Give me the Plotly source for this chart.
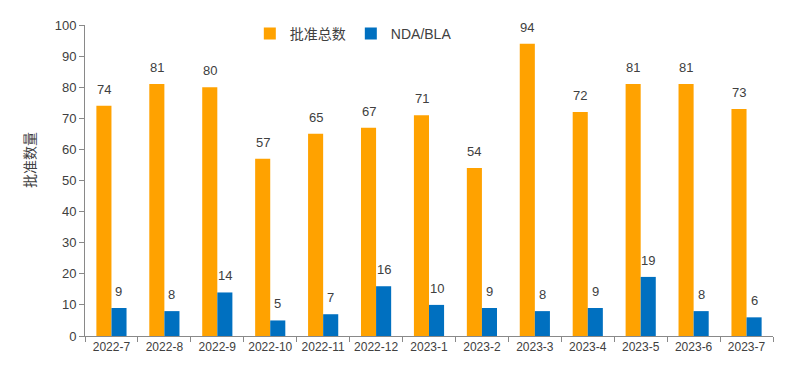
import plotly.graph_objects as go

categories = ["2022-7", "2022-8", "2022-9", "2022-10", "2022-11", "2022-12",
              "2023-1", "2023-2", "2023-3", "2023-4", "2023-5", "2023-6", "2023-7"]
total_approvals = [74, 81, 80, 57, 65, 67, 71, 54, 94, 72, 81, 81, 73]
nda_bla = [9, 8, 14, 5, 7, 16, 10, 9, 8, 9, 19, 8, 6]
y_ticks = list(range(0, 101, 10))

ORANGE = "#FFA200"
BLUE = "#0070C0"
FONT = "Liberation Sans, Noto Sans CJK SC, Arial, sans-serif"

fig = go.Figure()
fig.add_trace(go.Bar(name="批准总数", x=categories, y=total_approvals,
                     marker=dict(color=ORANGE, line=dict(width=0))))
fig.add_trace(go.Bar(name="NDA/BLA", x=categories, y=nda_bla,
                     marker=dict(color=BLUE, line=dict(width=0))))

annotations = []
for c, v in zip(categories, total_approvals):
    annotations.append(dict(x=c, y=v, xref="x", yref="y", text=str(v), showarrow=False,
                            xshift=-7.5, yshift=7, yanchor="bottom",
                            font=dict(size=13, color="#404040", family=FONT)))
for c, v in zip(categories, nda_bla):
    annotations.append(dict(x=c, y=v, xref="x", yref="y", text=str(v), showarrow=False,
                            xshift=7.5, yshift=7, yanchor="bottom",
                            font=dict(size=13, color="#404040", family=FONT)))
annotations.append(dict(x=-0.08, xref="paper", y=0.566, yref="paper", text="批准数量",
                        textangle=-90, showarrow=False, xanchor="center", yanchor="middle",
                        font=dict(size=14, color="#404040", family=FONT)))

fig.update_layout(
    width=796, height=367,
    margin=dict(l=85, r=23, t=25, b=31, autoexpand=False),
    paper_bgcolor="white", plot_bgcolor="white",
    barmode="group", bargap=0.43, bargroupgap=0,
    font=dict(family=FONT, color="#595959", size=12),
    legend=dict(orientation="h", x=0.39, xanchor="center", y=0.971, yanchor="middle",
                font=dict(size=14, color="#404040", family=FONT),
                bgcolor="rgba(0,0,0,0)", traceorder="normal"),
    annotations=annotations,
    showlegend=True,
)
fig.update_xaxes(type="category", showline=True, linecolor="#898989", linewidth=1,
                 ticks="outside", ticklen=5, tickcolor="#898989", tickson="boundaries",
                 tickangle=0, showgrid=False, tickfont=dict(size=12, color="#404040"))
fig.update_yaxes(range=[0, 100], tickvals=y_ticks, showline=True, linecolor="#898989",
                 linewidth=1, ticks="outside", ticklen=5, tickcolor="#898989",
                 showgrid=False, zeroline=False, tickfont=dict(size=13, color="#404040"))

fig.write_html("out.html", config={"displayModeBar": False},
               post_script="document.body.style.margin='0';document.body.style.overflow='hidden';")
